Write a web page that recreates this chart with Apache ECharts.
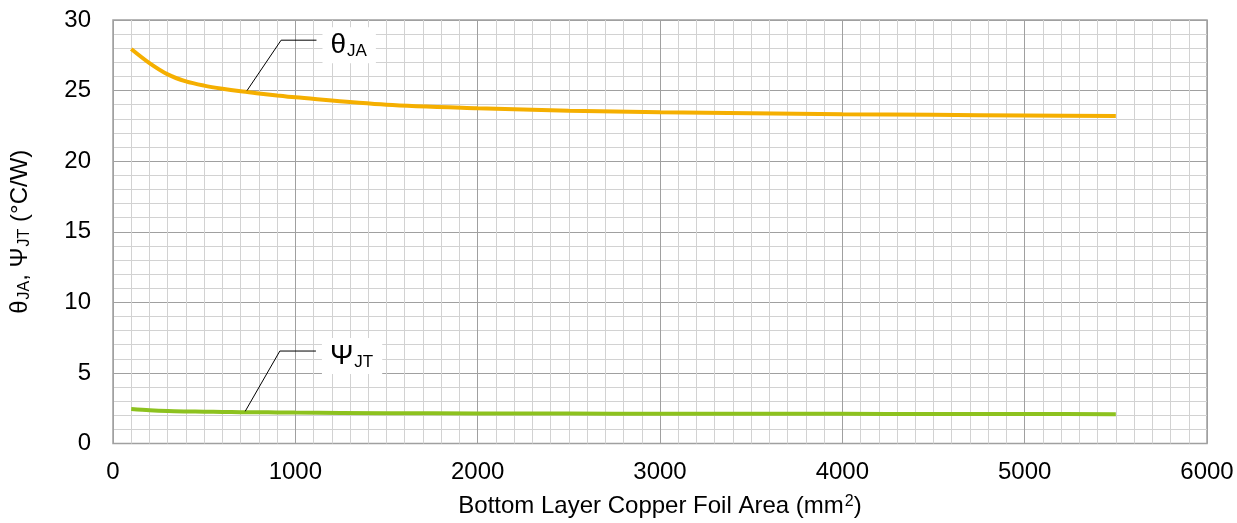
<!DOCTYPE html>
<html>
<head>
<meta charset="utf-8">
<script src="https://cdn.jsdelivr.net/npm/echarts@6/dist/echarts.min.js"></script>
<style>
  html, body { margin: 0; padding: 0; background: #fff; }
  #chart { width: 1237px; height: 523px; }
</style>
</head>
<body>
<div id="chart"></div>
<script>
// Copper foil area (mm²) sampled along the curves
const areas = [100, 200, 300, 400, 500, 600, 700, 800, 900, 1000, 1500, 2000, 2500, 3000, 3500, 4000, 4500, 5000, 5500];
// Junction-to-ambient thermal resistance (°C/W)
const thetaJA = [27.95, 26.95, 26.15, 25.65, 25.35, 25.13, 24.95, 24.8, 24.65, 24.52, 24.0, 23.75, 23.57, 23.47, 23.4, 23.33, 23.28, 23.24, 23.2];
// Junction-to-top characterization parameter (°C/W)
const psiJT = [2.45, 2.36, 2.3, 2.27, 2.25, 2.24, 2.22, 2.21, 2.2, 2.19, 2.15, 2.13, 2.12, 2.11, 2.1, 2.1, 2.09, 2.09, 2.08];

// Callout leader lines (area, value) from curve to label
const thetaLeader = [[735, 25.0], [922, 28.57], [1116, 28.57]];
const psiLeader = [[725, 2.28], [915, 6.55], [1113, 6.55]];

// Axis ranges and ticks
const xTicks = { min: 0, max: 6000, interval: 1000 };
const yTicks = { min: 0, max: 30, interval: 5 };

const FONT = 'Liberation Sans, Arial, sans-serif';
const FS = 24;

const chart = echarts.init(document.getElementById('chart'), null, { renderer: 'canvas' });

const pair = (xs, ys) => xs.map((x, i) => [x, ys[i]]);

function leaderSeries(points, main, sub) {
  return {
    type: 'line',
    data: points,
    symbol: 'none',
    silent: true,
    z: 5,
    lineStyle: { color: '#000', width: 1 },
    endLabel: {
      show: true,
      formatter: '{m|' + main + '}{s|' + sub + '}',
      backgroundColor: '#fff',
      padding: [3, 9, 3, 8],
      distance: 6,
      offset: [0, 5],
      rich: {
        m: { fontFamily: FONT, fontSize: 28, color: '#000', lineHeight: 30 },
        s: { fontFamily: FONT, fontSize: 17, color: '#000', lineHeight: 14, verticalAlign: 'bottom', padding: [8, 0, 0, 1] }
      }
    }
  };
}

const option = {
  backgroundColor: '#fff',
  animation: false,
  grid: {
    left: 113, right: 30, top: 20, bottom: 78.5,
    show: true, borderColor: '#a0a0a0', borderWidth: 1.5, backgroundColor: 'transparent'
  },
  xAxis: {
    type: 'value',
    min: xTicks.min, max: xTicks.max, interval: xTicks.interval,
    name: 'Bottom Layer Copper Foil Area (mm{sup|2})',
    nameLocation: 'middle',
    nameGap: 50,
    nameTextStyle: {
      fontFamily: FONT, fontSize: FS, color: '#000',
      rich: { sup: { fontFamily: FONT, fontSize: 16, color: '#000', verticalAlign: 'top', padding: [0, 0, 9, 1] } }
    },
    axisLine: { show: false },
    axisTick: { show: false },
    axisLabel: { fontFamily: FONT, fontSize: FS, color: '#000', margin: 17, formatter: v => String(v) },
    splitLine: { show: true, lineStyle: { color: '#a0a0a0', width: 1 } },
    minorTick: { show: false, splitNumber: 10 },
    minorSplitLine: { show: true, lineStyle: { color: '#d2d2d2', width: 1 } }
  },
  yAxis: {
    type: 'value',
    min: yTicks.min, max: yTicks.max, interval: yTicks.interval,
    name: '{m|θ}{s|JA}{m|, Ψ}{s|JT}{m| (°C/W)}',
    nameLocation: 'middle',
    nameGap: 80,
    nameRotate: 90,
    nameTextStyle: {
      rich: {
        m: { fontFamily: FONT, fontSize: FS, color: '#000', lineHeight: 26 },
        s: { fontFamily: FONT, fontSize: 16, color: '#000', lineHeight: 12, verticalAlign: 'bottom', padding: [7, 0, 0, 1] }
      }
    },
    axisLine: { show: false },
    axisTick: { show: false },
    axisLabel: { fontFamily: FONT, fontSize: FS, color: '#000', margin: 22 },
    splitLine: { show: true, lineStyle: { color: '#a0a0a0', width: 1 } },
    minorTick: { show: false, splitNumber: 5 },
    minorSplitLine: { show: true, lineStyle: { color: '#d2d2d2', width: 1 } }
  },
  series: [
    {
      name: 'θJA',
      type: 'line',
      data: pair(areas, thetaJA),
      smooth: 0.3,
      symbol: 'none',
      z: 4,
      lineStyle: { color: '#F5AF00', width: 4 }
    },
    {
      name: 'ΨJT',
      type: 'line',
      data: pair(areas, psiJT),
      smooth: 0.3,
      symbol: 'none',
      z: 4,
      lineStyle: { color: '#8DC21F', width: 4 }
    },
    leaderSeries(thetaLeader, 'θ', 'JA'),
    leaderSeries(psiLeader, 'Ψ', 'JT')
  ]
};

chart.setOption(option);
</script>
</body>
</html>
